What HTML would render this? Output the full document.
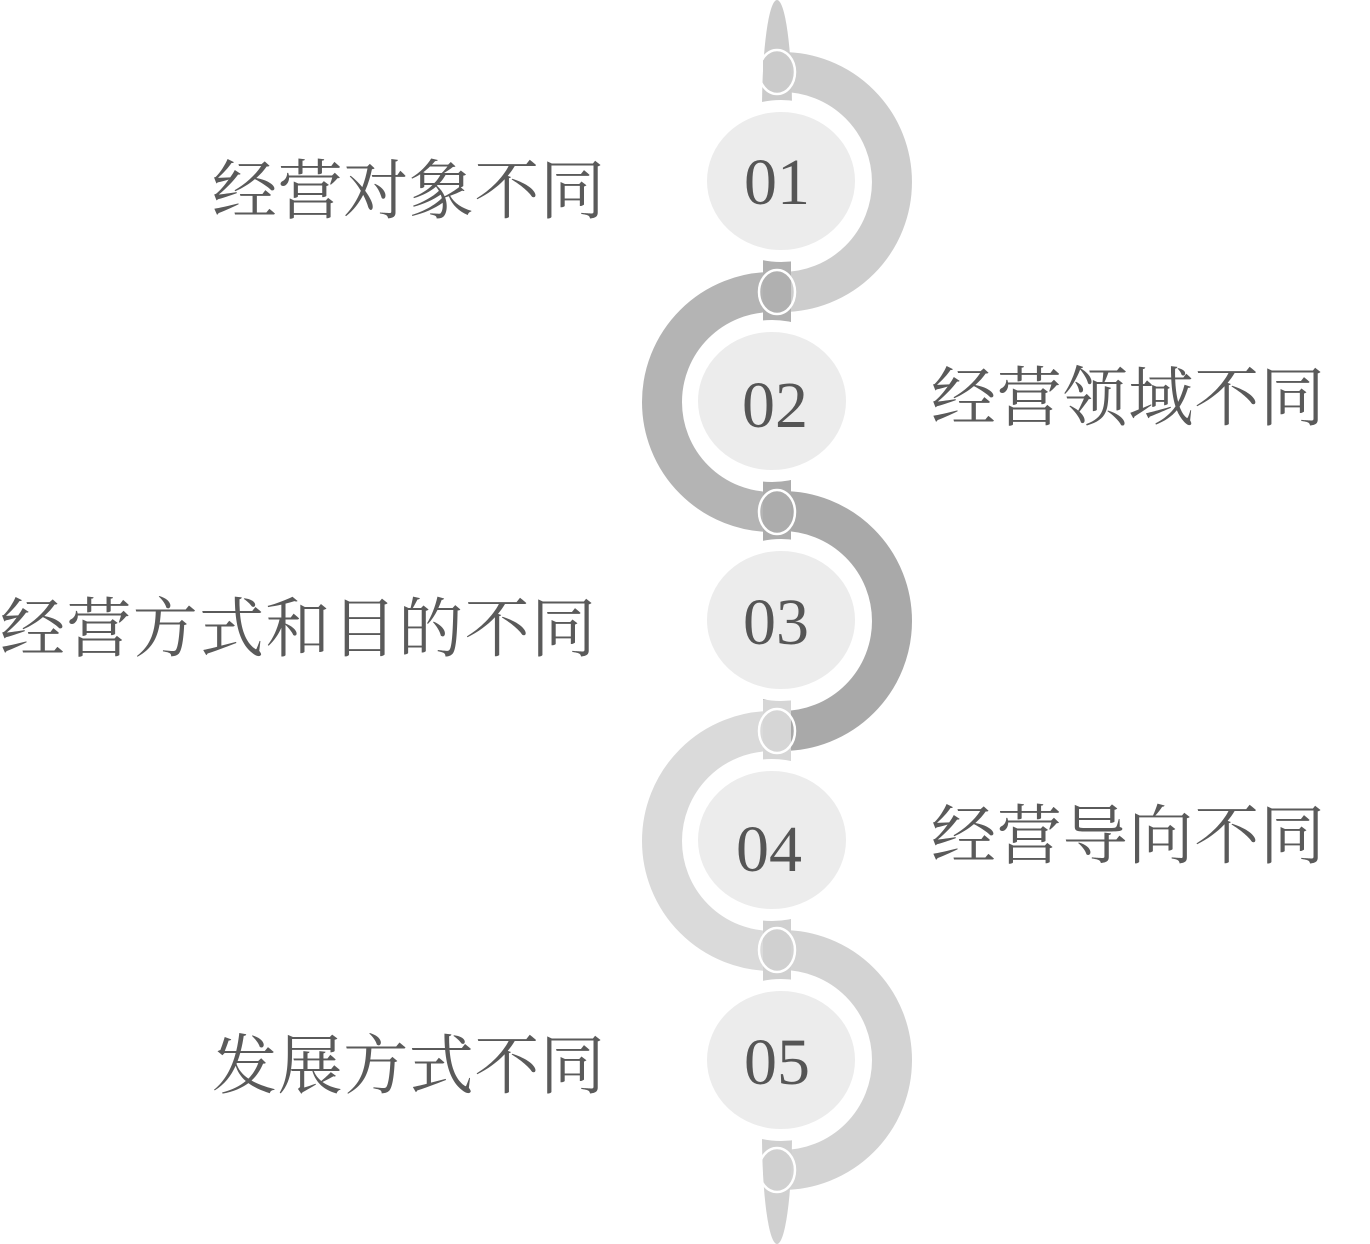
<!DOCTYPE html>
<html><head><meta charset="utf-8"><style>
html,body{margin:0;padding:0;background:#fff;}
svg{display:block}
</style></head><body>
<svg width="1370" height="1244" viewBox="0 0 1370 1244" xmlns="http://www.w3.org/2000/svg">
<!-- arcs -->
<g fill="none" stroke-width="40">
<path d="M782 72 A110 110 0 0 1 782 292" stroke="#cdcdcd"/>
<path d="M772 292 A110 110 0 0 0 772 512" stroke="#b4b4b4"/>
<path d="M782 511 A110 110 0 0 1 782 731" stroke="#a9a9a9"/>
<path d="M772 731 A110 110 0 0 0 772 951" stroke="#dadada"/>
<path d="M782 950 A110 110 0 0 1 782 1170" stroke="#d3d3d3"/>
</g>
<!-- central bar -->
<ellipse cx="777" cy="110" rx="15" ry="110" fill="#cbcbcb"/>
<ellipse cx="777" cy="1134" rx="15" ry="110" fill="#d0d0d0"/>
<rect x="763" y="60" width="28" height="210" fill="#cbcbcb"/>
<rect x="763" y="255" width="28" height="230" fill="#b0b0b0"/>
<rect x="763" y="475" width="28" height="240" fill="#acacac"/>
<rect x="763" y="700" width="28" height="230" fill="#d6d6d6"/>
<rect x="763" y="915" width="28" height="260" fill="#d0d0d0"/>
<!-- joint white ovals -->
<g fill="none" stroke="#fff" stroke-width="2.5">
<ellipse cx="777" cy="72" rx="18" ry="22"/>
<ellipse cx="777" cy="292" rx="18" ry="22"/>
<ellipse cx="777" cy="512" rx="18" ry="22"/>
<ellipse cx="777" cy="731" rx="18" ry="22"/>
<ellipse cx="777" cy="950" rx="18" ry="22"/>
<ellipse cx="777" cy="1170" rx="18" ry="22"/>
</g>
<!-- circles -->
<g fill="#ececec" stroke="#fff" stroke-width="12">
<ellipse cx="781" cy="181" rx="80" ry="75"/>
<ellipse cx="772" cy="401" rx="80" ry="75"/>
<ellipse cx="781" cy="620" rx="80" ry="75"/>
<ellipse cx="772" cy="840" rx="80" ry="75"/>
<ellipse cx="781" cy="1060" rx="80" ry="75"/>
</g>
<g font-family="Liberation Serif, serif" font-size="66" fill="#555" text-anchor="middle">
<text x="777" y="204">01</text>
<text x="775" y="427">02</text>
<text x="776" y="644">03</text>
<text x="769" y="871">04</text>
<text x="777" y="1084">05</text>
</g>
<g font-family="'Liberation Serif','Noto Serif CJK SC',serif" font-size="65" fill="#5a5a5a">
<text x="212" y="213" textLength="393">经营对象不同</text>
<text x="931" y="420" textLength="394">经营领域不同</text>
<text x="0" y="651" textLength="596">经营方式和目的不同</text>
<text x="931" y="858" textLength="394">经营导向不同</text>
<text x="212" y="1088" textLength="393">发展方式不同</text>
</g>
</svg>
</body></html>
